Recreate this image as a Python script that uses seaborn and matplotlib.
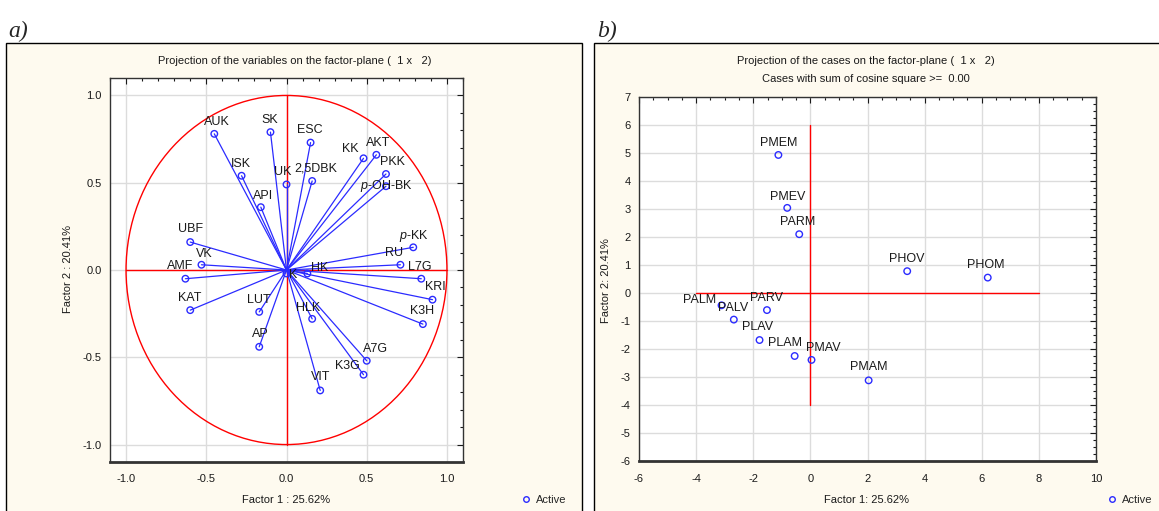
import numpy as np
import pandas as pd
import matplotlib
matplotlib.use('Agg')
import matplotlib.pyplot as plt
import seaborn as sns
from matplotlib.patches import Rectangle, Circle
from matplotlib.lines import Line2D
from matplotlib.ticker import MultipleLocator, FormatStrFormatter

# variables (loadings on factor 1 / factor 2)
var_names = ['AUK', 'SK', 'ESC', 'ISK', 'UK', '2,5DBK', 'API', 'UBF', 'VK', 'AMF',
             'KAT', 'LUT', 'AP', 'HLK', 'VIT', 'HK', 'K', 'KK', 'AKT', 'PKK',
             '$\\it{p}$-OH-BK', '$\\it{p}$-KK', 'RU', 'L7G', 'KRI', 'K3H', 'A7G', 'K3G']
var_f1 = [-0.45, -0.10, 0.15, -0.28, 0.00, 0.16, -0.16, -0.60, -0.53, -0.63,
          -0.60, -0.17, -0.17, 0.16, 0.21, 0.13, 0.00, 0.48, 0.56, 0.62,
          0.62, 0.79, 0.71, 0.84, 0.91, 0.85, 0.50, 0.48]
var_f2 = [0.78, 0.79, 0.73, 0.54, 0.49, 0.51, 0.36, 0.16, 0.03, -0.05,
          -0.23, -0.24, -0.44, -0.28, -0.69, -0.02, -0.02, 0.64, 0.66, 0.55,
          0.48, 0.13, 0.03, -0.05, -0.17, -0.31, -0.52, -0.60]
# label offsets in pixels (layout only)
var_dx = [3, -1, -1, -1, -4, 4, 2, 0, 3, -5, -1, 0, 1, -4, 0, 12, 7, -13, 2, 6, 0, 1, -6, -2, 3, -1, 9, -16]
var_dy = [12, 12, 13, 12, 12, 12, 11, 13, 11, 13, 12, 12, 13, 11, 13, 5, -2, 9, 12, 12, 0, 11, 12, 12, 13, 13, 12, 9]

# cases (scores on factor 1 / factor 2)
case_names = ['PMEM', 'PMEV', 'PARM', 'PHOV', 'PHOM', 'PALM', 'PALV', 'PARV',
              'PLAV', 'PLAM', 'PMAV', 'PMAM']
case_f1 = [-1.12, -0.81, -0.39, 3.39, 6.21, -3.11, -2.68, -1.52, -1.78, -0.55, 0.04, 2.04]
case_f2 = [4.93, 3.04, 2.10, 0.78, 0.55, -0.44, -0.95, -0.61, -1.68, -2.25, -2.39, -3.12]
case_dx = [0, 0, -2, 0, -2, -22, -1, 0, -2, -10, 12, 0]
case_dy = [12, 11, 12, 12, 13, 5, 12, 12, 13, 13, 12, 13]

vars_df = pd.DataFrame({'name': var_names, 'f1': var_f1, 'f2': var_f2})
cases_df = pd.DataFrame({'name': case_names, 'f1': case_f1, 'f2': case_f2})

sns.set_style('white')
plt.rcParams['font.family'] = ['Liberation Sans', 'DejaVu Sans']
plt.rcParams['axes.unicode_minus'] = False
plt.rcParams['mathtext.fontset'] = 'custom'
plt.rcParams['mathtext.rm'] = 'Liberation Sans'
plt.rcParams['mathtext.it'] = 'Liberation Sans:italic'

W, H = 1159, 511
cream = '#FEFAEF'
blue = '#2b2bff'
txt = '#1a1a1a'
fig = plt.figure(figsize=(W / 100, H / 100), dpi=100)
fig.patch.set_facecolor('white')

# panel frames
fig.add_artist(Rectangle((6 / W, -0.01), 576 / W, 1 - 43 / H + 0.01, transform=fig.transFigure,
                         facecolor=cream, edgecolor='black', lw=1, zorder=0))
fig.add_artist(Rectangle((594 / W, -0.01), 0.52, 1 - 43 / H + 0.01, transform=fig.transFigure,
                         facecolor=cream, edgecolor='black', lw=1, zorder=0))
fig.text(8 / W, 1 - 37 / H, 'a)', family='Liberation Serif', style='italic', fontsize=17, va='baseline')
fig.text(597 / W, 1 - 37 / H, 'b)', family='Liberation Serif', style='italic', fontsize=17, va='baseline')


def px_axes(x0, x1, y0, y1):
    return fig.add_axes([x0 / W, 1 - y1 / H, (x1 - x0) / W, (y1 - y0) / H])


def style_axes(ax):
    ax.set_facecolor('white')
    ax.grid(True, which='major', color='#dcdcdc', lw=1)
    ax.set_axisbelow(True)
    for s in ax.spines.values():
        s.set_color('#333333')
        s.set_linewidth(1)
    ax.spines['bottom'].set_linewidth(2)
    ax.tick_params(which='both', direction='in', top=True, right=True, labelsize=8,
                   colors=txt, length=4, width=0.8)
    ax.tick_params(which='minor', length=2)
    ax.tick_params(axis='x', pad=9)
    ax.tick_params(axis='y', pad=6)


def active_legend(ax, x_px):
    ax.legend(handles=[Line2D([], [], marker='o', ls='', mfc='none', mec=blue, ms=4)],
              labels=['Active'], loc='center left', bbox_to_anchor=(x_px / W, 1 - 500 / H),
              bbox_transform=fig.transFigure, frameon=False, fontsize=8,
              handletextpad=0.4, handlelength=1.0, borderpad=0, borderaxespad=0)


# ---- a) variables
ax1 = px_axes(110, 463, 78, 462)
style_axes(ax1)
ax1.add_patch(Circle((0, 0), 1, fill=False, ec='red', lw=1, zorder=2))
ax1.plot([0, 0], [-1, 1], color='red', lw=1, zorder=2)
ax1.plot([-1, 1], [0, 0], color='red', lw=1, zorder=2)
for x, y in zip(var_f1, var_f2):
    ax1.plot([0, x], [0, y], color=blue, lw=0.9, zorder=3)
sns.scatterplot(data=vars_df, x='f1', y='f2', ax=ax1, marker='o', s=22,
                facecolor='none', edgecolor=blue, linewidth=1, zorder=4)
for n, x, y, dx, dy in zip(var_names, var_f1, var_f2, var_dx, var_dy):
    ax1.annotate(n, (x, y), xytext=(dx, dy), textcoords='offset pixels',
                 ha='center', va='center', fontsize=9, color=txt, zorder=5)
ax1.set_xlim(-1.1, 1.1)
ax1.set_ylim(-1.1, 1.1)
ax1.xaxis.set_major_locator(MultipleLocator(0.5))
ax1.yaxis.set_major_locator(MultipleLocator(0.5))
ax1.xaxis.set_minor_locator(MultipleLocator(0.1))
ax1.yaxis.set_minor_locator(MultipleLocator(0.1))
ax1.xaxis.set_major_formatter(FormatStrFormatter('%.1f'))
ax1.yaxis.set_major_formatter(FormatStrFormatter('%.1f'))
ax1.set_xlabel('Factor 1 : 25.62%', fontsize=8, va='center', color=txt)
ax1.set_ylabel('Factor 2 : 20.41%', fontsize=8, va='center', color=txt)
ax1.xaxis.set_label_coords(0.5, -(500 - 462) / 384)
ax1.yaxis.set_label_coords((68 - 110) / 353, 0.503)
fig.text(295 / W, 1 - 61 / H, 'Projection of the variables on the factor-plane (  1 x   2)',
         ha='center', va='center', fontsize=8, color=txt)
active_legend(ax1, 520)

# ---- b) cases
ax2 = px_axes(639, 1096, 97, 461)
style_axes(ax2)
ax2.plot([0, 0], [-4, 6], color='red', lw=1, zorder=2)
ax2.plot([-4, 8], [0, 0], color='red', lw=1, zorder=2)
sns.scatterplot(data=cases_df, x='f1', y='f2', ax=ax2, marker='o', s=22,
                facecolor='none', edgecolor=blue, linewidth=1, zorder=4)
for n, x, y, dx, dy in zip(case_names, case_f1, case_f2, case_dx, case_dy):
    ax2.annotate(n, (x, y), xytext=(dx, dy), textcoords='offset pixels',
                 ha='center', va='center', fontsize=9, color=txt, zorder=5)
ax2.set_xlim(-6, 10)
ax2.set_ylim(-6, 7)
ax2.xaxis.set_major_locator(MultipleLocator(2))
ax2.yaxis.set_major_locator(MultipleLocator(1))
ax2.xaxis.set_minor_locator(MultipleLocator(0.5))
ax2.yaxis.set_minor_locator(MultipleLocator(0.25))
ax2.set_xlabel('Factor 1: 25.62%', fontsize=8, va='center', color=txt)
ax2.set_ylabel('Factor 2: 20.41%', fontsize=8, va='center', color=txt)
ax2.xaxis.set_label_coords((866 - 639) / 457, -(500 - 461) / 364)
ax2.yaxis.set_label_coords((606 - 639) / 457, 0.495)
fig.text(866 / W, 1 - 61 / H, 'Projection of the cases on the factor-plane (  1 x   2)',
         ha='center', va='center', fontsize=8, color=txt)
fig.text(866 / W, 1 - 79 / H, 'Cases with sum of cosine square >=  0.00',
         ha='center', va='center', fontsize=8, color=txt)
active_legend(ax2, 1106)

fig.savefig('out.png', dpi=100)
